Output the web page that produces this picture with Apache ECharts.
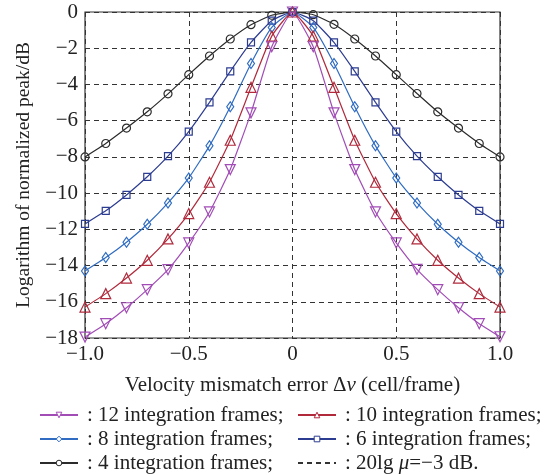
<!DOCTYPE html>
<html>
<head>
<meta charset="utf-8">
<script src="https://cdn.jsdelivr.net/npm/echarts@6/dist/echarts.min.js"></script>
<style>
  html, body { margin: 0; padding: 0; background: #fff; }
  #chart { width: 552px; height: 475px; }
</style>
</head>
<body>
<div id="chart"></div>
<script>
// Velocity mismatch error (cell/frame)
const xs = [-1.0, -0.9, -0.8, -0.7, -0.6, -0.5, -0.4, -0.3, -0.2, -0.1, 0,
            0.1, 0.2, 0.3, 0.4, 0.5, 0.6, 0.7, 0.8, 0.9, 1.0];

// Normalized peak (dB) for each number of integration frames
const frames12 = [-17.95, -17.21, -16.33, -15.33, -14.23, -12.75, -11.04, -8.70, -5.57, -1.92, 0,
                  -1.92, -5.57, -8.70, -11.04, -12.75, -14.21, -15.33, -16.33, -17.21, -17.93];
const frames10 = [-16.29, -15.55, -14.69, -13.71, -12.53, -11.13, -9.40, -7.08, -4.16, -1.33, 0,
                  -1.33, -4.16, -7.08, -9.40, -11.13, -12.53, -13.71, -14.69, -15.55, -16.29];
const frames8 = [-14.30, -13.56, -12.71, -11.72, -10.54, -9.16, -7.39, -5.23, -2.84, -0.85, 0,
                 -0.85, -2.84, -5.23, -7.39, -9.16, -10.54, -11.72, -12.71, -13.56, -14.30];
const frames6 = [-11.70, -10.98, -10.10, -9.10, -7.96, -6.60, -4.99, -3.28, -1.68, -0.48, 0,
                 -0.48, -1.68, -3.28, -4.99, -6.60, -7.96, -9.10, -10.10, -10.98, -11.70];
const frames4 = [-8.00, -7.26, -6.41, -5.51, -4.52, -3.46, -2.43, -1.49, -0.70, -0.18, 0,
                 -0.15, -0.68, -1.49, -2.43, -3.46, -4.50, -5.51, -6.41, -7.26, -8.00];

const names = {
  f12: ': 12 integration frames;',
  f10: ': 10 integration frames;',
  f8: ': 8 integration frames;',
  f6: ': 6 integration frames;',
  f4: ': 4 integration frames;',
  ref: ': 20lg \u03bc=\u22123 dB.'
};

const colors = {
  f12: '#a24db6',
  f10: '#b02a3c',
  f8: '#2f6cc2',
  f6: '#2c3c91',
  f4: '#2b2b2b',
  ref: '#333'
};

const FONT = '"Liberation Serif", "Times New Roman", serif';
const pairs = ys => xs.map((x, i) => [x, ys[i]]);
const minus = v => String(v).replace('-', '\u2212');

function curve(key, ys, symbol, size, rotate) {
  const color = colors[key];
  return {
    name: names[key],
    type: 'line',
    data: pairs(ys),
    symbol: symbol,
    symbolSize: size,
    symbolRotate: rotate || 0,
    showAllSymbol: true,
    smooth: 0.15,
    lineStyle: { color: color, width: 1.2 },
    itemStyle: { color: 'rgba(255,255,255,0)', borderColor: color, borderWidth: 1.2 },
    emphasis: { disabled: true },
    z: 3
  };
}

// hollow markers in the legend too
const legendItem = key => key === 'ref'
  ? { name: names[key], itemStyle: { color: 'rgba(0,0,0,0)', borderWidth: 0 } }
  : { name: names[key], itemStyle: { color: '#fff', borderColor: colors[key], borderWidth: 1 } };

const legendText = {
  fontFamily: FONT, fontSize: 21, color: '#222', lineHeight: 22,
  padding: [0, 0, 0, 4],
  rich: { i: { fontFamily: FONT, fontSize: 21, fontStyle: 'italic', color: '#222' } }
};
const legendFormatter = n => n.replace('\u03bc', '{i|\u03bc}');

const chart = echarts.init(document.getElementById('chart'), null, { renderer: 'canvas' });
chart.setOption({
  animation: false,
  backgroundColor: '#fff',
  grid: {
    left: 85, right: 52, top: 12, bottom: 137,
    show: true, borderColor: '#333', borderWidth: 1.2, backgroundColor: 'transparent'
  },
  xAxis: {
    type: 'value', min: -1, max: 1, interval: 0.5,
    axisLine: { show: false }, axisTick: { show: false },
    splitLine: { show: true, lineStyle: { color: '#333', type: [5, 4], width: 1 } },
    axisLabel: {
      fontFamily: FONT, fontSize: 21, color: '#222', margin: 6,
      formatter: v => v === 0 ? '0' : minus(v.toFixed(1))
    },
    name: 'Velocity mismatch error \u0394{i|v} (cell/frame)',
    nameLocation: 'middle', nameGap: 37,
    nameTextStyle: {
      fontFamily: FONT, fontSize: 21, color: '#222',
      rich: { i: { fontFamily: FONT, fontSize: 21, fontStyle: 'italic', color: '#222' } }
    }
  },
  yAxis: {
    type: 'value', min: -18, max: 0, interval: 2,
    axisLine: { show: false }, axisTick: { show: false },
    splitLine: { show: true, lineStyle: { color: '#333', type: [5, 4], width: 1 } },
    axisLabel: {
      fontFamily: FONT, fontSize: 21, color: '#222', margin: 7,
      formatter: v => minus(v)
    },
    name: 'Logarithm of normalized peak/dB',
    nameLocation: 'middle', nameGap: 48,
    nameTextStyle: { fontFamily: FONT, fontSize: 19.5, color: '#222' }
  },
  legend: [
    {
      orient: 'vertical', left: 39, top: 404, padding: 0, itemGap: 2,
      itemWidth: 38, itemHeight: 7,
      data: ['f12', 'f8', 'f4'].map(legendItem),
      textStyle: legendText, formatter: legendFormatter, selectedMode: false
    },
    {
      orient: 'vertical', left: 297, top: 404, padding: 0, itemGap: 2,
      itemWidth: 38, itemHeight: 7,
      data: ['f10', 'f6', 'ref'].map(legendItem),
      textStyle: legendText, formatter: legendFormatter, selectedMode: false
    }
  ],
  series: [
    curve('f4', frames4, 'circle', 8),
    curve('f6', frames6, 'rect', 7),
    curve('f8', frames8, 'diamond', [7, 10]),
    curve('f10', frames10, 'triangle', 10),
    curve('f12', frames12, 'triangle', 10, 180),
    {
      name: names.ref,
      type: 'line',
      data: [],
      symbol: 'none',
      lineStyle: { color: colors.ref, width: 1.2, type: [5, 4] },
      itemStyle: { color: 'rgba(0,0,0,0)', borderWidth: 0 }
    }
  ]
});
</script>
</body>
</html>
